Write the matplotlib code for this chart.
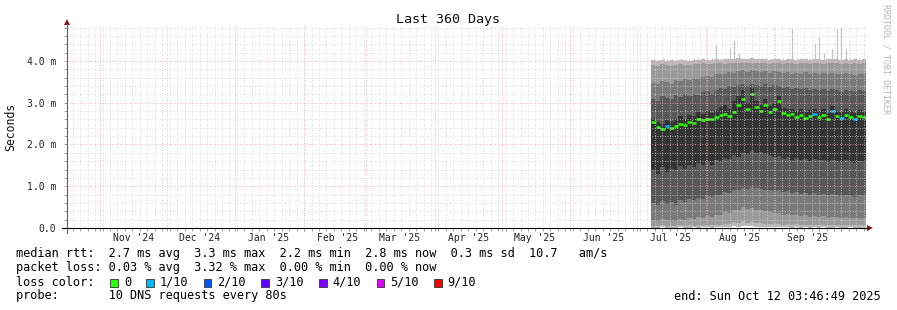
import datetime as dt
import numpy as np
import matplotlib
matplotlib.use('Agg')
import matplotlib.pyplot as plt
import matplotlib.dates as mdates
from matplotlib.ticker import MultipleLocator, FixedLocator, FuncFormatter, NullFormatter
from matplotlib.patches import Polygon, Rectangle
from matplotlib.lines import Line2D

W, H = 897, 310
MONO = 'DejaVu Sans Mono'

end = dt.datetime(2025, 10, 12, 3, 46, 49)
start = end - dt.timedelta(days=360)
data_start = dt.datetime(2025, 7, 7, 12, 0)

month_labels = ["Nov '24", "Dec '24", "Jan '25", "Feb '25", "Mar '25", "Apr '25",
                "May '25", "Jun '25", "Jul '25", "Aug '25", "Sep '25"]
month_starts = [(2024, 11), (2024, 12), (2025, 1), (2025, 2), (2025, 3), (2025, 4),
                (2025, 5), (2025, 6), (2025, 7), (2025, 8), (2025, 9), (2025, 10)]

# sorted ping times in ms, 2 day bins from data_start to end
p1 = [0.01, 0.00, 0.02, 0.01, 0.01, 0.00, 0.02, 0.01, 0.01, 0.02, 0.01, 0.02,
      0.02, 0.01, 0.02, 0.02, 0.03, 0.02, 0.04, 0.03, 0.05, 0.04, 0.04, 0.03,
      0.03, 0.02, 0.03, 0.02, 0.03, 0.02, 0.02, 0.01, 0.02, 0.01, 0.02, 0.01,
      0.02, 0.01, 0.02, 0.01, 0.01, 0.02, 0.01, 0.01, 0.02, 0.01, 0.01, 0.01]
p2 = [0.05, 0.04, 0.06, 0.05, 0.05, 0.04, 0.06, 0.05, 0.06, 0.05, 0.07, 0.06,
      0.07, 0.06, 0.08, 0.07, 0.10, 0.09, 0.14, 0.12, 0.16, 0.13, 0.15, 0.12,
      0.11, 0.10, 0.10, 0.09, 0.10, 0.08, 0.09, 0.08, 0.09, 0.07, 0.08, 0.07,
      0.08, 0.07, 0.08, 0.06, 0.07, 0.07, 0.06, 0.07, 0.06, 0.06, 0.07, 0.06]
p3 = [0.20, 0.16, 0.22, 0.18, 0.20, 0.17, 0.22, 0.20, 0.24, 0.22, 0.26, 0.24,
      0.28, 0.26, 0.32, 0.30, 0.38, 0.36, 0.44, 0.42, 0.50, 0.46, 0.48, 0.44,
      0.42, 0.40, 0.38, 0.36, 0.36, 0.32, 0.33, 0.30, 0.31, 0.28, 0.30, 0.27,
      0.29, 0.27, 0.28, 0.25, 0.27, 0.26, 0.24, 0.26, 0.25, 0.23, 0.25, 0.24]
p4 = [0.60, 0.55, 0.65, 0.58, 0.62, 0.56, 0.66, 0.62, 0.70, 0.66, 0.72, 0.70,
      0.76, 0.74, 0.80, 0.78, 0.86, 0.84, 0.92, 0.90, 0.96, 0.94, 0.98, 0.95,
      0.94, 0.92, 0.90, 0.88, 0.90, 0.86, 0.88, 0.84, 0.86, 0.82, 0.85, 0.80,
      0.84, 0.80, 0.82, 0.78, 0.81, 0.79, 0.76, 0.80, 0.77, 0.75, 0.78, 0.76]
p5 = [1.40, 1.30, 1.45, 1.35, 1.42, 1.38, 1.48, 1.42, 1.50, 1.45, 1.55, 1.50,
      1.58, 1.52, 1.62, 1.58, 1.68, 1.65, 1.75, 1.70, 1.80, 1.78, 1.85, 1.80,
      1.82, 1.78, 1.75, 1.70, 1.72, 1.66, 1.70, 1.64, 1.68, 1.62, 1.66, 1.60,
      1.65, 1.62, 1.64, 1.58, 1.62, 1.60, 1.57, 1.62, 1.58, 1.56, 1.60, 1.58]
p6 = [2.62, 2.55, 2.50, 2.58, 2.55, 2.60, 2.68, 2.62, 2.70, 2.68, 2.78, 2.72,
      2.80, 2.75, 2.82, 2.90, 2.95, 2.85, 3.05, 3.15, 3.30, 3.00, 3.35, 3.05,
      2.95, 3.10, 2.92, 3.00, 3.15, 2.88, 2.85, 2.86, 2.80, 2.84, 2.78, 2.82,
      2.86, 2.80, 2.84, 2.76, 2.92, 2.80, 2.78, 2.84, 2.80, 2.76, 2.82, 2.78]
p7 = [3.10, 3.05, 3.15, 3.12, 3.08, 3.18, 3.14, 3.20, 3.16, 3.22, 3.18, 3.25,
      3.28, 3.22, 3.30, 3.35, 3.32, 3.40, 3.38, 3.42, 3.45, 3.40, 3.46, 3.42,
      3.40, 3.44, 3.38, 3.42, 3.40, 3.36, 3.38, 3.34, 3.36, 3.32, 3.35, 3.30,
      3.34, 3.30, 3.33, 3.28, 3.32, 3.30, 3.26, 3.30, 3.28, 3.25, 3.30, 3.27]
p8 = [3.48, 3.45, 3.52, 3.50, 3.46, 3.55, 3.52, 3.58, 3.55, 3.60, 3.57, 3.62,
      3.65, 3.62, 3.68, 3.70, 3.68, 3.74, 3.72, 3.75, 3.78, 3.74, 3.78, 3.75,
      3.74, 3.76, 3.72, 3.75, 3.74, 3.72, 3.74, 3.70, 3.72, 3.70, 3.73, 3.69,
      3.72, 3.70, 3.71, 3.68, 3.72, 3.70, 3.68, 3.71, 3.69, 3.67, 3.70, 3.68]
p9 = [3.90, 3.88, 3.92, 3.90, 3.89, 3.91, 3.92, 3.90, 3.91, 3.93, 3.92, 3.94,
      3.93, 3.92, 3.95, 3.94, 3.93, 3.95, 3.94, 3.96, 3.95, 3.94, 3.96, 3.95,
      3.94, 3.95, 3.93, 3.95, 3.94, 3.93, 3.95, 3.94, 3.93, 3.94, 3.95, 3.93,
      3.94, 3.95, 3.93, 3.94, 3.95, 3.94, 3.93, 3.94, 3.93, 3.94, 3.93, 3.94]
p10 = [4.02, 4.00, 4.03, 4.01, 4.02, 4.00, 4.03, 4.02, 4.01, 4.03, 4.02, 4.04,
       4.03, 4.02, 4.05, 4.03, 4.04, 4.05, 4.04, 4.06, 4.05, 4.04, 4.06, 4.05,
       4.04, 4.05, 4.03, 4.05, 4.04, 4.03, 4.05, 4.04, 4.03, 4.04, 4.05, 4.03,
       4.04, 4.05, 4.03, 4.04, 4.05, 4.04, 4.03, 4.04, 4.03, 4.04, 4.03, 4.04]
# single outliers above the smoke
pmax = [4.05, 4.04, 4.06, 4.05, 4.05, 4.04, 4.06, 4.05, 4.05, 4.07, 4.06, 4.08,
        4.07, 4.06, 4.38, 4.08, 4.07, 4.31, 4.50, 4.20, 4.08, 4.07, 4.09, 4.08,
        4.07, 4.08, 4.06, 4.08, 4.07, 4.06, 4.08, 4.79, 4.06, 4.07, 4.08, 4.06,
        4.43, 4.57, 4.20, 4.07, 4.30, 4.79, 4.79, 4.30, 4.06, 4.07, 4.06, 4.07]
median = [2.55, 2.42, 2.38, 2.45, 2.40, 2.44, 2.50, 2.47, 2.55, 2.52, 2.60, 2.58,
          2.62, 2.60, 2.66, 2.70, 2.72, 2.68, 2.78, 2.95, 3.10, 2.85, 3.20, 2.90,
          2.80, 2.95, 2.78, 2.85, 3.05, 2.75, 2.70, 2.72, 2.66, 2.70, 2.64, 2.68,
          2.72, 2.66, 2.70, 2.62, 2.80, 2.68, 2.64, 2.70, 2.66, 2.62, 2.68, 2.65]
loss = [0, 0, 0, 1, 0, 0, 0, 0, 0, 0, 0, 0,
        0, 0, 0, 0, 0, 0, 0, 0, 0, 0, 0, 0,
        0, 0, 0, 0, 0, 0, 0, 0, 0, 0, 0, 0,
        1, 0, 0, 0, 1, 0, 1, 0, 0, 1, 0, 0]

loss_colors = ['#26ff00', '#00b8ff', '#0059ff', '#5e00ff', '#7e00ff', '#dd00ff', '#ff0000']
loss_labels = ['0', '1/10', '2/10', '3/10', '4/10', '5/10', '9/10']

stats_line = "median rtt:  2.7 ms avg  3.3 ms max  2.2 ms min  2.8 ms now  0.3 ms sd  10.7   am/s"
loss_line = "packet loss: 0.03 % avg  3.32 % max  0.00 % min  0.00 % now"
probe_line = "probe:       10 DNS requests every 80s"
end_line = "end: Sun Oct 12 03:46:49 2025"


def fx(x):
    return x / W


def fy(y):
    return 1 - y / H


fig = plt.figure(figsize=(W / 100, H / 100), dpi=100)
fig.patch.set_facecolor('white')
ax = fig.add_axes([fx(67), fy(228), (866 - 67) / W, (228 - 27) / H])

x0 = mdates.date2num(start)
x1 = mdates.date2num(end)
edges = np.linspace(mdates.date2num(data_start), x1, len(median) + 1)
centers = (edges[:-1] + edges[1:]) / 2

pings = [p1, p2, p3, p4, p5, p6, p7, p8, p9, p10]
grays = ['#b8b8b8', '#9a9a9a', '#7a7a7a', '#585858', '#333333',
         '#585858', '#7a7a7a', '#9a9a9a', '#b8b8b8']
for i in range(9):
    ax.stairs(pings[i + 1], edges, baseline=pings[i], fill=True,
              color=grays[i], lw=0, zorder=1)
ax.vlines(centers, p10, pmax, color='#c4c4c4', lw=0.9, zorder=1)
ax.hlines(median, edges[:-1], edges[1:], colors=[loss_colors[l] for l in loss],
          lw=1.8, zorder=2)

ax.set_xlim(x0, x1)
ax.set_ylim(0, 4.814)

ms = [mdates.date2num(dt.datetime(y, m, 1)) for y, m in month_starts]
ax.xaxis.set_major_locator(FixedLocator(ms))
ax.xaxis.set_major_formatter(NullFormatter())
step = 3.363
ax.xaxis.set_minor_locator(MultipleLocator(step, offset=(x0 + 2.57) % step))
ax.yaxis.set_major_locator(MultipleLocator(1.0))
ax.yaxis.set_minor_locator(MultipleLocator(0.2))
ax.yaxis.set_major_formatter(FuncFormatter(lambda v, _: '0.0' if v == 0 else '%.1f m' % v))

ax.set_axisbelow(False)
ax.grid(which='minor', color='#d4d4d4', ls=(0, (1, 2)), lw=0.6)
# month and 1 ms lines drawn on top so the minor grid cannot hide them
for m in ms:
    ax.axvline(m, color='#f4a4a4', ls=(0, (1, 2)), lw=0.6, zorder=3)
for v in [1.0, 2.0, 3.0, 4.0]:
    ax.axhline(v, color='#f4a4a4', ls=(0, (1, 2)), lw=0.6, zorder=3)
ax.tick_params(which='both', length=2, color='#909090', width=0.6)
ax.tick_params(axis='y', which='major', pad=6, labelsize=7, labelcolor='#222222')
for lab in ax.get_yticklabels():
    lab.set_family(MONO)
for s in ax.spines.values():
    s.set_visible(False)

for (y, m), lab in zip(month_starts, month_labels):
    ax.text(mdates.date2num(dt.datetime(y, m, 16)), -10 / 201, lab,
            transform=ax.get_xaxis_transform(), ha='center', va='center',
            family=MONO, fontsize=7, color='#222222')

# axes lines and arrows
fig.add_artist(Line2D([fx(67), fx(67)], [fy(233), fy(24)], color='#606060', lw=0.8))
fig.add_artist(Line2D([fx(62), fx(868)], [fy(228), fy(228)], color='black', lw=0.8))
fig.add_artist(Polygon([(fx(64), fy(25)), (fx(70), fy(25)), (fx(67), fy(19))],
                       closed=True, color='#801818', lw=0))
fig.add_artist(Polygon([(fx(867), fy(225)), (fx(867), fy(231)), (fx(873), fy(228))],
                       closed=True, color='#801818', lw=0))

fig.text(fx(448), fy(19), 'Last 360 Days', ha='center', va='center',
         family=MONO, fontsize=9.6, color='#111111')
fig.text(fx(11), fy(127), 'Seconds', rotation=90, ha='center', va='center',
         family=MONO, fontsize=8.3, color='#111111')
fig.text(fx(886), fy(4), 'RRDTOOL / TOBI OETIKER', rotation=270, ha='center', va='top',
         family=MONO, fontsize=6, color='#b4b4b4')

fs = 8.6
cw = fs * 100 / 72 * 0.602
lx = 16
fig.text(fx(lx), fy(254), stats_line, ha='left', va='center', family=MONO, fontsize=fs)
fig.text(fx(lx), fy(268), loss_line, ha='left', va='center', family=MONO, fontsize=fs)
fig.text(fx(lx), fy(282), 'loss color:', ha='left', va='center', family=MONO, fontsize=fs)
col = 13
for c, lab in zip(loss_colors, loss_labels):
    sx = lx + col * cw + 1
    fig.add_artist(Rectangle((fx(sx), fy(286.5)), 7.5 / W, 7.5 / H, facecolor=c,
                             edgecolor='#333333', lw=0.6))
    fig.text(fx(lx + (col + 2) * cw), fy(282), lab, ha='left', va='center',
             family=MONO, fontsize=fs)
    col = col + 2 + len(lab) + 2
fig.text(fx(lx), fy(296), probe_line, ha='left', va='center', family=MONO, fontsize=fs)
fig.text(fx(881), fy(296), end_line, ha='right', va='center', family=MONO, fontsize=fs)

fig.savefig('out.png', dpi=100)
